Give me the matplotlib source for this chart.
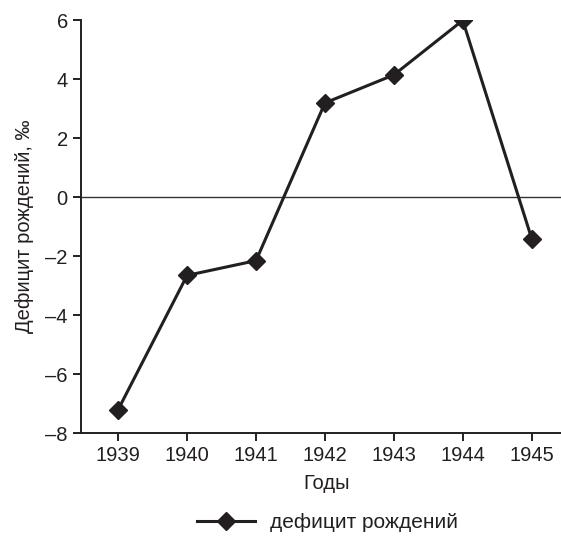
import matplotlib.pyplot as plt

plt.rcParams['font.family'] = ['Liberation Sans', 'DejaVu Sans']

years = [1939, 1940, 1941, 1942, 1943, 1944, 1945]
deficit = [-7.2, -2.65, -2.15, 3.2, 4.15, 6.0, -1.4]
year_labels = [str(y) for y in years]
y_ticks = [-8, -6, -4, -2, 0, 2, 4, 6]
y_tick_labels = ['–8', '–6', '–4', '–2', '0', '2', '4', '6']

fig = plt.figure(figsize=(5.61, 5.36), dpi=100)
# axes runs a little past the right edge, as in the source image
ax = fig.add_axes([0.1444, 0.192, 0.877, 0.77])

ax.axhline(0, color='#333333', linewidth=1.0, zorder=1)
ax.plot(years, deficit, color='#231f20', linewidth=2.2, marker='D',
        markersize=9, label='дефицит рождений', zorder=3)

ax.set_xlim(1938.46, 1945.6)
ax.set_ylim(-8, 6)
ax.set_xticks(years)
ax.set_xticklabels(year_labels)
ax.set_yticks(y_ticks)
ax.set_yticklabels(y_tick_labels)

for side in ['top', 'right']:
    ax.spines[side].set_visible(False)
for side in ['left', 'bottom']:
    ax.spines[side].set_linewidth(1.4)
    ax.spines[side].set_color('#231f20')

ax.tick_params(axis='both', direction='out', length=6, width=1.4,
               color='#231f20', labelsize=14.5, labelcolor='#231f20')
ax.set_xlabel('Годы', fontsize=14.5, color='#231f20', labelpad=6)
ax.set_ylabel('Дефицит рождений, ‰', fontsize=14.5, color='#231f20', labelpad=8)

fig.legend(loc='center', bbox_to_anchor=(0.583, 0.025), frameon=False,
           fontsize=15, handlelength=2.8, handletextpad=0.7,
           labelcolor='#231f20')

fig.savefig('out.png', dpi=100)
